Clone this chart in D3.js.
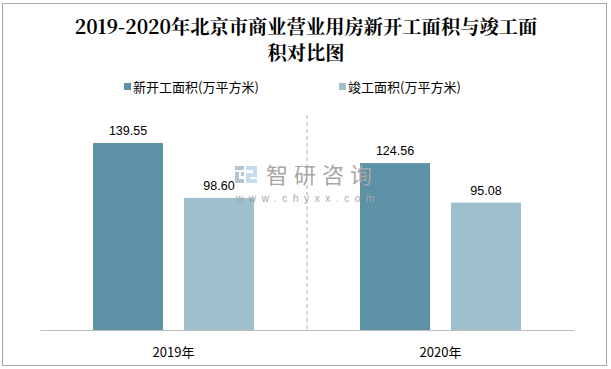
<!DOCTYPE html>
<html><head><meta charset="utf-8">
<script src="https://cdn.jsdelivr.net/npm/d3@7"></script>
<style>body{margin:0;background:#fff;}svg{display:block;}</style>
</head><body>
<script>
const categories = ["2019年", "2020年"];
const seriesNames = ["新开工面积(万平方米)", "竣工面积(万平方米)"];
const newStart = [139.55, 124.56];
const completed = [98.60, 95.08];
const colors = ["#5d91a6", "#a0bfcc"];
const titleLines = ["2019-2020年北京市商业营业用房新开工面积与竣工面", "积对比图"];

const W = 611, H = 369;
const svg = d3.select("body").append("svg").attr("width", W).attr("height", H);
svg.append("rect").attr("x", 2.5).attr("y", 3.5).attr("width", 604).attr("height", 362)
  .attr("fill", "#fff").attr("stroke", "#a6a6a6");

// title
titleLines.forEach((t, i) => {
  svg.append("text").attr("text-anchor", "middle")
    .attr("font-family", "'Noto Serif CJK SC','Noto Sans CJK SC',serif").attr("font-weight", "bold")
    .attr("font-size", 19.3).attr("fill", "#000")
    .attr("x", 306).attr("y", 34 + i * 26).text(t);
});

const x0 = d3.scaleBand().domain(categories).range([40, 574]);
const x1 = d3.scaleBand().domain([0, 1]).range([0, 161]).paddingInner(0.2308);
const y = d3.scaleLinear().domain([0, 160]).range([330, 115.6]);

// divider
svg.append("line").attr("x1", 307).attr("x2", 307).attr("y1", 115).attr("y2", 330)
  .attr("stroke", "#c0c0c0").attr("stroke-dasharray", "4,3").attr("stroke-width", 1.2);

const data = categories.map((c, i) => ({cat: c, vals: [newStart[i], completed[i]]}));
const g = svg.selectAll("g.grp").data(data).enter().append("g")
  .attr("transform", d => `translate(${x0(d.cat) + x0.bandwidth()/2 - 80.5},0)`);
g.selectAll("rect").data(d => d.vals).enter().append("rect")
  .attr("x", (d, i) => x1(i)).attr("width", x1.bandwidth())
  .attr("y", d => y(d)).attr("height", d => 330 - y(d))
  .attr("fill", (d, i) => colors[i]);

// watermark
const wm = svg.append("g");
const logoA = "#b7c3d6", logoB = "#c4dcf0";
[[235,166,9,4],[235,172,4,11],[235,179,9,4],[241,172,3,4]].forEach(r =>
  wm.append("rect").attr("x", r[0]).attr("y", r[1]).attr("width", r[2]).attr("height", r[3]).attr("fill", logoA));
[[246,166,11,4],[253,166,4,10],[246,173,11,4],[246,173,4,10],[246,179,11,4]].forEach(r =>
  wm.append("rect").attr("x", r[0]).attr("y", r[1]).attr("width", r[2]).attr("height", r[3]).attr("fill", logoB));
wm.append("text").attr("x", 266).attr("y", 183).attr("font-family", "'Noto Sans CJK SC',sans-serif")
  .attr("font-size", 22).attr("letter-spacing", 6).attr("fill", "#a6a6a6").text("智研咨询");
wm.append("text").attr("x", 236).attr("y", 202).attr("font-family", "'Liberation Sans',sans-serif")
  .attr("font-size", 10).attr("letter-spacing", 5.6).attr("fill", "#a6a6a6").text("www.chyxx.com");

g.selectAll("text").data(d => d.vals).enter().append("text")
  .attr("x", (d, i) => x1(i) + x1.bandwidth()/2).attr("y", d => y(d) - 8)
  .attr("text-anchor", "middle").attr("font-family", "'Liberation Sans',Arial,sans-serif")
  .attr("font-size", 12.5).attr("fill", "#000").text(d => d.toFixed(2));

// axis
const xAxis = svg.append("g").attr("transform", "translate(0,330)").call(d3.axisBottom(x0).tickSize(0).tickPadding(18));
xAxis.select(".domain").attr("stroke", "#bfbfbf").attr("stroke-width", 1.2);
xAxis.selectAll("text").attr("font-family", "'Noto Sans CJK SC',sans-serif").attr("font-size", 13).attr("fill", "#000");

// legend
const legX = [124, 339];
seriesNames.forEach((n, i) => {
  svg.append("rect").attr("x", legX[i]).attr("y", 83).attr("width", 7).attr("height", 7).attr("fill", colors[i]);
  svg.append("text").attr("x", legX[i] + 9).attr("y", 92).attr("font-family", "'Noto Sans CJK SC',sans-serif")
    .attr("font-size", 13).attr("fill", "#000").text(n);
});
</script>
</body></html>
